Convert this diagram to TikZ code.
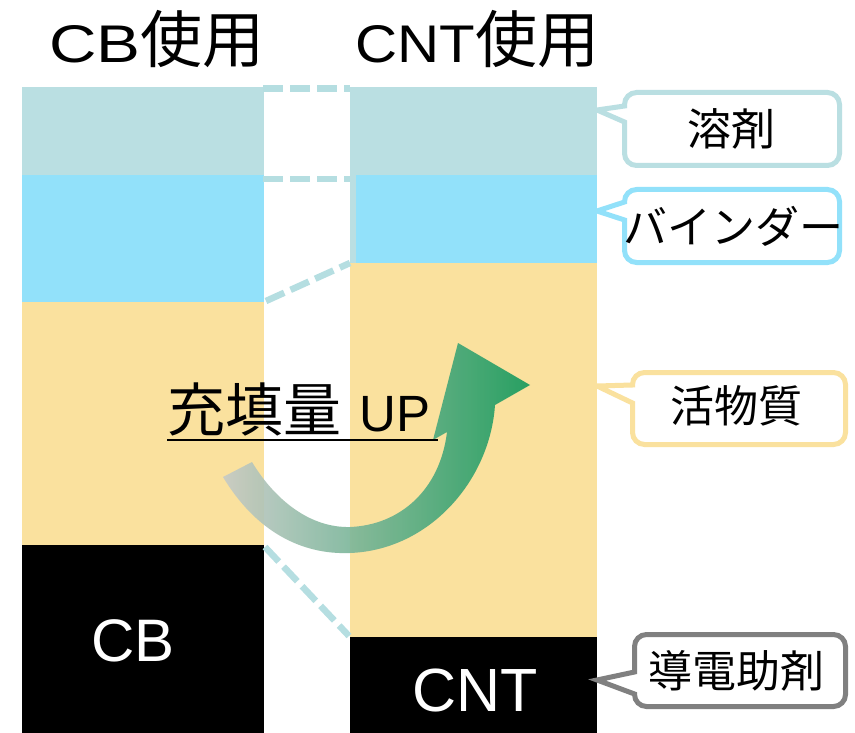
\documentclass[tikz,border=0pt]{standalone}
\usepackage{fontspec}
\setmainfont{Liberation Sans}
\newfontfamily\jpfont{Noto Sans CJK JP}
\newfontfamily\wideA[FakeStretch=1.24]{Liberation Sans}
\newfontfamily\wideB[FakeStretch=1.1]{Liberation Sans}
\definecolor{solv}{HTML}{BADFE2}
\definecolor{bind}{HTML}{92E1FA}
\definecolor{actv}{HTML}{FAE19E}
\definecolor{dashc}{HTML}{B5DEE1}
\definecolor{grayc}{HTML}{808080}
\definecolor{arrowg}{HTML}{C6CAC6}
\definecolor{arrowgr}{HTML}{12995C}
\begin{document}
\begin{tikzpicture}[x=1pt,y=-1pt,
  guide/.style={dashc, line width=6.5pt, dash pattern=on 20pt off 7pt},
  callout/.style={line width=5pt, fill=white},
  jplabel/.style={inner sep=0pt, font=\jpfont\fontsize{44}{50}\selectfont},
  titlelabel/.style={anchor=base west, inner sep=0pt},
  boxlabel/.style={anchor=base, inner sep=0pt, text=white},
]
\fill[white] (0,0) rectangle (855,733);
\useasboundingbox (0,0) rectangle (855,733);

% left column (CB)
\fill[solv] (22,87) rectangle (264,175);
\fill[bind] (22,175) rectangle (264,302);
\fill[actv] (22,302) rectangle (264,545);
\fill[black] (22,545) rectangle (264,733);
% right column (CNT)
\fill[solv] (350,87) rectangle (597,175);
\fill[solv] (350,175) rectangle (356,263);
\fill[bind] (356,175) rectangle (597,263);
\fill[actv] (350,263) rectangle (597,637);
\fill[black] (350,637) rectangle (597,733);

% guide coordinates
\coordinate (l1) at (263,88.5);  \coordinate (r1) at (350,88.5);
\coordinate (l2) at (263,179);   \coordinate (r2) at (350,179);
\coordinate (l3) at (266,301);   \coordinate (r3) at (350,263);
\coordinate (l4) at (265,547);   \coordinate (r4) at (349,636);
\draw[guide] (l1) -- (r1);
\draw[guide] (l2) -- (r2);
\draw[guide] (l3) -- (r3);
\draw[guide] (l4) -- (r4);

% titles
\node[titlelabel] (t1) at (49,63) {{\wideA\fontsize{53}{60}\selectfont CB}{\jpfont\fontsize{62}{70}\selectfont 使用}};
\node[titlelabel] (t2) at (355,63) {{\wideB\fontsize{53}{60}\selectfont CNT}{\jpfont\fontsize{62}{70}\selectfont 使用}};

% labels in black boxes
\node[boxlabel, font=\fontsize{60}{66}\selectfont] (cb) at (133,661) {CB};
\node[boxlabel, font=\fontsize{61}{66}\selectfont] (cnt) at (475,711) {CNT};

% curved arrow
\shade[left color=arrowg, right color=arrowgr, fill opacity=0.9]
  (223,477) .. controls (255,530) and (300,555) .. (350,553)
  .. controls (430,550) and (490,480) .. (495,405)
  -- (530,385) -- (458,343) -- (433,440) -- (447,432)
  .. controls (440,490) and (400,525) .. (350,527)
  .. controls (310,528) and (275,500) .. (252,462) -- cycle;

% fill-up text
\node[anchor=base west, inner sep=0pt] (up) at (167,431)
  {{\jpfont\fontsize{58}{62}\selectfont 充填量}\hspace{18pt}{\fontsize{51}{56}\selectfont UP}};
\draw[line width=2.5pt] ([yshift=-9pt]up.base west) -- ([yshift=-9pt,xshift=8pt]up.base east);

% callouts
\draw[callout, draw=solv] (730,165.5) [rounded corners=12pt] -- (624.5,165.5) [sharp corners] -- (624.5,122) -- (597,110) -- (624.5,106) [rounded corners=12pt] -- (624.5,92.5) -- (839.5,92.5) -- (839.5,165.5) -- cycle;
\node[jplabel] (solvent) at (731,129) {溶剤};

\draw[callout, draw=bind] (730,262.5) [rounded corners=12pt] -- (624.5,262.5) [sharp corners] -- (624.5,220) -- (597,211) -- (624.5,202) [rounded corners=12pt] -- (624.5,189.5) -- (839.5,189.5) -- (839.5,262.5) -- cycle;
\node[jplabel] (binder) at (733,226) {バインダー};

\draw[callout, draw=actv] (740,444.5) [rounded corners=12pt] -- (632.5,444.5) [sharp corners] -- (632.5,403) -- (597,386) -- (632.5,385) [rounded corners=12pt] -- (632.5,372.5) -- (845.5,372.5) -- (845.5,444.5) -- cycle;
\node[jplabel] (active) at (736,406) {活物質};

\draw[callout, draw=grayc] (740,706.5) [rounded corners=12pt] -- (634.5,706.5) [sharp corners] -- (634.5,694) -- (597,680) -- (634.5,672) [rounded corners=12pt] -- (634.5,634.5) -- (845.5,634.5) -- (845.5,706.5) -- cycle;
\node[jplabel] (conductive) at (736,671) {導電助剤};
\end{tikzpicture}
\end{document}
